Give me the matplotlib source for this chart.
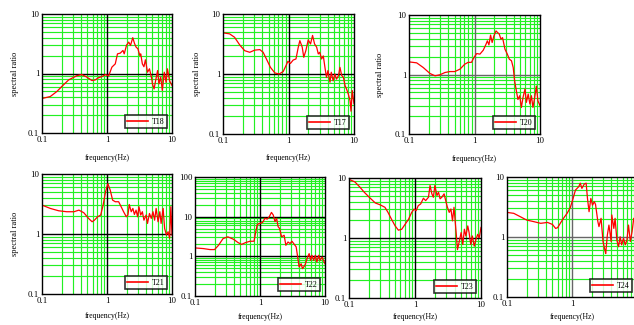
import matplotlib
matplotlib.use("Agg")
import matplotlib.pyplot as plt
from matplotlib.ticker import FixedLocator, NullFormatter, FixedFormatter

plt.rcParams['font.family'] = ['Liberation Serif', 'DejaVu Serif']

# ---------------- data (frequency in Hz, spectral ratio) ----------------
f_T18 = [0.1, 0.134, 0.17, 0.2, 0.257, 0.345, 0.41, 0.49, 0.587, 0.66, 0.74, 0.84, 0.94, 1.06,
         1.19, 1.34, 1.45, 1.6, 1.76, 1.84, 2.0, 2.16, 2.3, 2.49, 2.65, 2.8, 2.99, 3.2, 3.3, 3.5,
         3.7, 3.9, 4.2, 4.5, 4.9, 5.0, 5.3, 5.6, 6.0, 6.3, 6.7, 7.1, 7.6, 8.1, 8.5, 9.2, 10.0]
v_T18 = [0.38, 0.41, 0.50, 0.60, 0.78, 0.92, 0.96, 0.87, 0.76, 0.78, 0.85, 0.89, 0.96, 0.91,
         1.28, 1.45, 2.14, 2.2, 2.44, 2.14, 3.0, 3.37, 2.96, 4.0, 3.2, 2.78, 2.6, 2.0, 2.14, 1.45,
         1.3, 1.7, 1.05, 1.2, 0.8, 0.67, 0.55, 0.76, 1.12, 0.67, 0.87, 0.52, 1.05, 0.71, 1.2, 0.75, 0.63]

f_T17 = [0.1, 0.126, 0.15, 0.18, 0.214, 0.256, 0.305, 0.365, 0.41, 0.46, 0.53, 0.62, 0.72, 0.83,
         0.91, 0.98, 1.07, 1.18, 1.3, 1.41, 1.49, 1.62, 1.71, 1.84, 2.0, 2.17, 2.33, 2.5, 2.69,
         2.85, 3.0, 3.2, 3.4, 3.6, 3.8, 4.0, 4.3, 4.5, 4.8, 5.1, 5.4, 5.8, 6.1, 6.5, 6.9, 7.3,
         7.7, 8.2, 8.7, 9.0, 9.4, 10.0]
v_T17 = [4.85, 4.67, 4.1, 3.05, 2.45, 2.3, 2.5, 2.55, 2.3, 1.78, 1.29, 1.04, 1.0, 1.1,
         1.36, 1.63, 1.5, 1.71, 1.78, 2.8, 3.6, 2.8, 1.9, 2.45, 3.7, 3.17, 4.4, 3.17, 2.8,
         2.16, 2.3, 1.78, 2.0, 1.29, 0.88, 1.14, 0.73, 1.07, 0.77, 1.0, 0.82, 0.94, 1.29, 0.94,
         0.88, 0.64, 0.56, 0.46, 0.36, 0.24, 0.53, 0.32]

f_T20 = [0.1, 0.131, 0.165, 0.209, 0.25, 0.297, 0.354, 0.42, 0.5, 0.6, 0.71, 0.8, 0.9, 0.98,
         1.08, 1.21, 1.36, 1.5, 1.57, 1.66, 1.76, 1.86, 1.98, 2.13, 2.25, 2.39, 2.53, 2.68, 2.92,
         3.17, 3.4, 3.67, 3.9, 4.1, 4.4, 4.6, 4.9, 5.2, 5.5, 5.9, 6.2, 6.6, 7.0, 7.4, 7.8, 8.3,
         8.8, 9.3, 10.0]
v_T20 = [1.63, 1.57, 1.31, 1.04, 0.95, 0.99, 1.08, 1.12, 1.12, 1.23, 1.49, 1.6, 1.6, 1.93,
         2.25, 2.2, 2.56, 3.23, 3.68, 3.15, 4.6, 3.45, 4.47, 5.4, 5.08, 4.77, 3.93, 4.17, 2.66,
         2.2, 1.81, 1.7, 1.31, 0.78, 0.5, 0.38, 0.44, 0.28, 0.41, 0.57, 0.34, 0.47, 0.32, 0.44,
         0.28, 0.41, 0.64, 0.36, 0.3]

f_T21 = [0.1, 0.134, 0.18, 0.24, 0.31, 0.37, 0.44, 0.52, 0.59, 0.64, 0.72, 0.8, 0.87, 0.95,
         1.03, 1.12, 1.22, 1.34, 1.51, 1.65, 1.8, 1.98, 2.1, 2.2, 2.36, 2.5, 2.64, 2.8, 2.96,
         3.1, 3.3, 3.5, 3.7, 4.0, 4.2, 4.5, 4.8, 5.1, 5.4, 5.7, 6.1, 6.5, 6.8, 7.3, 7.7, 8.2,
         8.7, 9.2, 9.6, 10.0]
v_T21 = [3.03, 2.67, 2.44, 2.35, 2.35, 2.5, 2.26, 1.82, 1.6, 1.7, 1.94, 2.07, 3.0, 5.05,
         6.9, 5.4, 3.67, 3.45, 3.45, 2.85, 2.35, 1.94, 2.07, 3.1, 2.35, 2.67, 2.12, 2.5, 1.94,
         2.85, 2.07, 2.35, 1.7, 2.07, 1.5, 2.2, 1.82, 2.35, 1.7, 2.67, 1.6, 2.35, 1.5, 2.67,
         1.24, 0.96, 1.09, 0.85, 2.85, 0.96]

f_T22 = [0.1, 0.134, 0.17, 0.2, 0.23, 0.27, 0.32, 0.39, 0.46, 0.52, 0.6, 0.7, 0.81, 0.86,
         0.91, 1.0, 1.1, 1.19, 1.29, 1.39, 1.5, 1.6, 1.7, 1.8, 1.9, 2.0, 2.15, 2.35, 2.5, 2.7,
         2.9, 3.1, 3.3, 3.6, 3.8, 4.0, 4.3, 4.5, 4.9, 5.1, 5.4, 5.7, 6.0, 6.3, 6.7, 7.1, 7.5,
         8.0, 8.4, 9.0, 10.0]
v_T22 = [1.63, 1.57, 1.48, 1.48, 1.9, 2.8, 3.1, 2.7, 2.22, 2.0, 2.22, 2.4, 2.4, 4.15,
         6.4, 6.8, 7.2, 9.1, 8.7, 10.0, 12.8, 11.0, 7.5, 9.1, 5.6, 5.05, 3.1, 3.4, 1.9, 2.3,
         2.1, 2.4, 2.1, 1.73, 0.96, 0.54, 0.65, 0.49, 0.59, 0.72, 0.96, 1.17, 0.79, 1.06, 0.79,
         1.06, 0.72, 1.06, 0.79, 0.96, 0.65]

f_T23 = [0.1, 0.123, 0.147, 0.17, 0.21, 0.25, 0.3, 0.35, 0.39, 0.44, 0.5, 0.56, 0.63, 0.71,
         0.8, 0.89, 0.97, 1.04, 1.12, 1.22, 1.34, 1.45, 1.6, 1.69, 1.8, 1.9, 2.0, 2.15, 2.27,
         2.4, 2.55, 2.76, 2.96, 3.1, 3.3, 3.5, 3.7, 3.9, 4.2, 4.4, 4.7, 5.0, 5.3, 5.6, 5.9, 6.3,
         6.6, 7.0, 7.4, 7.9, 8.4, 8.9, 9.4, 10.0]
v_T23 = [9.5, 8.6, 7.0, 5.8, 4.6, 3.84, 3.55, 3.25, 2.67, 2.06, 1.59, 1.35, 1.4, 1.7,
         2.06, 2.67, 3.04, 2.85, 3.46, 3.7, 4.6, 4.2, 4.78, 7.5, 5.45, 4.78, 7.5, 5.1, 5.8,
         4.5, 4.78, 5.45, 3.94, 3.25, 2.67, 3.04, 1.93, 3.25, 1.23, 0.64, 0.89, 1.23, 0.78, 1.4,
         1.08, 1.59, 1.23, 0.78, 1.08, 0.73, 0.95, 1.15, 1.01, 1.5]

f_T24 = [0.1, 0.127, 0.16, 0.2, 0.26, 0.33, 0.42, 0.5, 0.56, 0.6, 0.66, 0.74, 0.84, 0.94,
         1.04, 1.13, 1.27, 1.34, 1.42, 1.54, 1.65, 1.73, 1.83, 1.95, 2.07, 2.2, 2.3, 2.5, 2.6,
         2.8, 3.0, 3.2, 3.3, 3.5, 3.7, 4.0, 4.1, 4.4, 4.6, 4.9, 5.2, 5.5, 5.8, 6.2, 6.6, 7.0,
         7.4, 7.9, 8.4, 8.9, 9.5, 10.0]
v_T24 = [2.57, 2.48, 2.18, 1.92, 1.8, 1.69, 1.75, 1.62, 1.39, 1.43, 1.69, 2.05, 2.48, 3.08,
         4.4, 6.06, 6.9, 7.9, 6.46, 7.6, 7.9, 4.4, 2.64, 4.4, 3.4, 3.88, 3.5, 1.8, 1.49,
         2.05, 0.84, 0.61, 0.53, 1.08, 1.58, 0.84, 2.33, 1.39, 2.05, 0.89, 0.69, 1.01, 0.74,
         0.95, 0.74, 0.89, 1.58, 0.84, 1.23, 2.05, 1.92, 1.8]

names = ['T18', 'T17', 'T20', 'T21', 'T22', 'T23', 'T24']
freqs = [f_T18, f_T17, f_T20, f_T21, f_T22, f_T23, f_T24]
vals = [v_T18, v_T17, v_T20, v_T21, v_T22, v_T23, v_T24]
ylims = [(0.1, 10), (0.1, 10), (0.1, 10), (0.1, 10), (0.1, 100), (0.1, 10), (0.1, 10)]
xtick_vals = [[0.1, 1, 10]] * 6 + [[0.1, 1]]
show_ylabel = [True, True, True, True, False, False, False]
major_col = ['black', 'black', '#666666', 'black', 'black', 'black', '#666666']

# ---------------- layout (pixel boxes: left, right, top, bottom) ----------------
W, H = 634, 325
boxes = [(42, 172, 14, 133), (223, 354, 14, 134), (409, 540, 15, 134),
         (42, 172, 174, 294), (195, 325, 177, 296), (349, 481, 178, 298),
         (507, 637, 177, 297)]
xlabel_y = [158, 158, 159, 316, 317, 317, 317]
ylabel_x = [15, 197, 380, 15, None, None, None]

fig = plt.figure(figsize=(W / 100, H / 100), dpi=100)

GREEN = '#22f022'

def minors(lo, hi):
    out = []
    d = lo
    while d < hi * 0.999:
        for k in range(2, 10):
            out.append(k * d)
        d *= 10
    return out

def decades(lo, hi):
    out = []
    d = lo
    while d <= hi * 1.001:
        out.append(d)
        d *= 10
    return out

def fmt(v):
    return ('%g' % v)

for i, name in enumerate(names):
    l, r, t, b = boxes[i]
    ax = fig.add_axes([l / W, 1 - b / H, (r - l) / W, (b - t) / H])
    ax.set_xscale('log')
    ax.set_yscale('log')
    ax.set_xlim(0.1, 10)
    ylo, yhi = ylims[i]
    ax.set_ylim(ylo, yhi)

    # grid
    for xv in minors(0.1, 10):
        ax.axvline(xv, color=GREEN, lw=0.85, zorder=1)
    for yv in minors(ylo, yhi):
        ax.axhline(yv, color=GREEN, lw=0.85, zorder=1)
    for xv in decades(0.1, 10)[1:-1]:
        ax.axvline(xv, color=major_col[i], lw=1.0, zorder=2)
    for yv in decades(ylo, yhi)[1:-1]:
        ax.axhline(yv, color=major_col[i], lw=1.0, zorder=2)

    ax.plot(freqs[i], vals[i], color='red', lw=0.9, zorder=3, label=name)

    xt = xtick_vals[i]
    yt = decades(ylo, yhi)
    ax.xaxis.set_major_locator(FixedLocator(xt))
    ax.xaxis.set_major_formatter(FixedFormatter([fmt(v) for v in xt]))
    ax.xaxis.set_minor_formatter(NullFormatter())
    ax.yaxis.set_major_locator(FixedLocator(yt))
    ax.yaxis.set_major_formatter(FixedFormatter([fmt(v) for v in yt]))
    ax.yaxis.set_minor_formatter(NullFormatter())
    ax.tick_params(which='both', length=0, labelsize=6.3, pad=2)
    for s in ax.spines.values():
        s.set_linewidth(1.0)
        s.set_color('black')
        s.set_zorder(4)

    ax.set_xlabel('frequency(Hz)', fontsize=5.6, va='center')
    ax.xaxis.set_label_coords(0.5, (b - xlabel_y[i]) / (b - t))
    if show_ylabel[i]:
        ax.set_ylabel('spectral ratio', fontsize=6.0, va='center')
        ax.yaxis.set_label_coords((ylabel_x[i] - l) / (r - l), 0.5)

    leg = ax.legend(loc='lower right', fontsize=5.8, frameon=True, fancybox=False,
                    borderpad=0.3, handlelength=2.6, handletextpad=0.5,
                    borderaxespad=0.6, shadow=False)
    leg.get_frame().set_edgecolor('black')
    leg.get_frame().set_linewidth(1.2)
    leg.get_lines()[0].set_linewidth(1.2)
    leg.set_zorder(5)

fig.savefig('out.png', dpi=100)
